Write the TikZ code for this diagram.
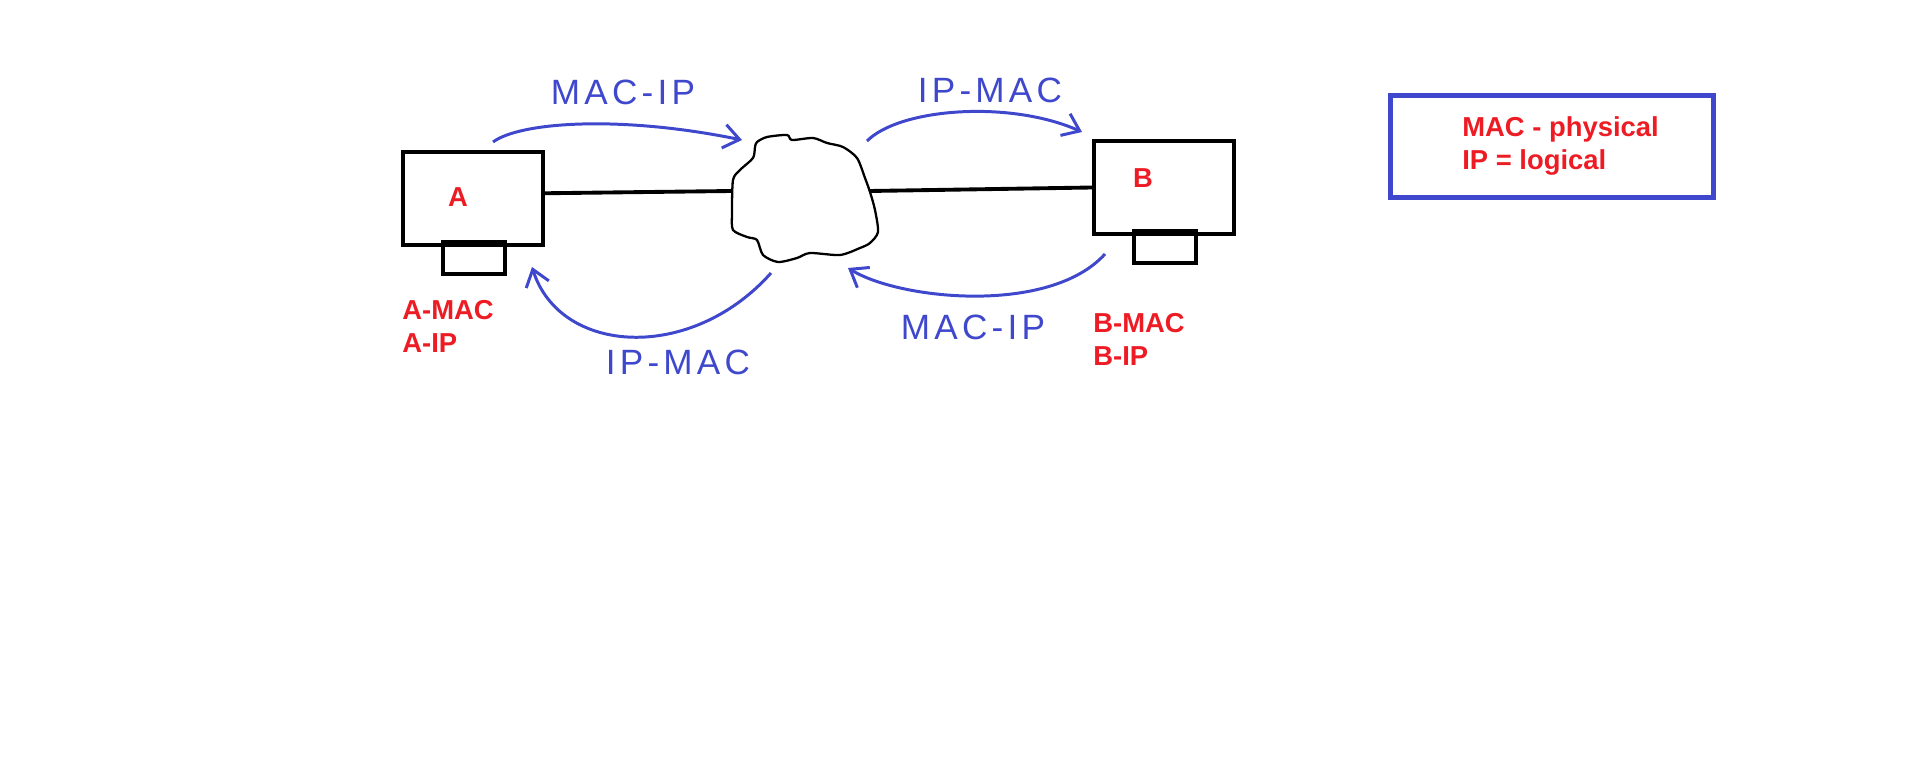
\documentclass[tikz,border=0pt]{standalone}
\usepackage{fontspec}
\setmainfont{Liberation Sans}
\newfontfamily\manofont[LetterSpace=12]{Liberation Sans}
\usepackage{xcolor}
\usetikzlibrary{arrows.meta,positioning,calc}
\definecolor{azul}{RGB}{63,72,204}
\definecolor{rojo}{RGB}{237,28,36}

\begin{document}
\begin{tikzpicture}[x=0.02cm,y=-0.02cm,
  equipo/.style={draw,line width=2.3pt,minimum width=2.8cm,minimum height=1.87cm,inner sep=0pt},
  tarjeta/.style={draw,line width=2.3pt,minimum width=1.24cm,minimum height=0.64cm,inner sep=0pt},
  rotulo/.style={text=rojo,font=\fontsize{15.6}{18.7}\selectfont\bfseries,align=left,inner sep=0pt},
  mano/.style={text=azul,font=\manofont\fontsize{20}{22}\selectfont,inner sep=0pt},
  flecha/.style={draw=azul,line width=1.7pt,-{Straight Barb[length=9pt,width=13.5pt]}}]
\useasboundingbox (0,0) rectangle (1914,773);

% equipos A y B
\node[equipo] (pcA) at (472.6,198.3) {};
\node[tarjeta] (nicA) at (474,258) {};
\node[rotulo] (nomA) at (458,197) {A};
\node[rotulo,anchor=north west] (dirA) at (402,300) {A-MAC\\A-IP};

\node[equipo] (pcB) at (1164,187.5) {};
\node[tarjeta] (nicB) at (1165,247) {};
\node[rotulo] (nomB) at (1143,178) {B};
\node[rotulo,anchor=north west] (dirB) at (1093,313) {B-MAC\\B-IP};

% nube
\draw[line width=1.3pt] plot[smooth cycle,tension=0.45] coordinates {
  (757,142) (767,137) (787,135) (792,140) (813,138) (827,143) (843,147)
  (857,158) (865,178) (870,192) (875,210) (878,232) (870,243) (860,248)
  (840,255) (810,253) (797,258) (778,262) (763,255) (757,240) (747,237)
  (733,230) (732,213) (733,180) (740,170) (753,158) (755,147)};
\coordinate (nubeO) at (732,191);
\coordinate (nubeE) at (870,191);

\draw[line width=2.2pt] (pcA.4) -- (nubeO);
\draw[line width=2.2pt] (nubeE) -- (pcB.west);

% flechas
\coordinate (f1a) at (493,142); \coordinate (f1b) at (742,140);
\coordinate (f2a) at (867,141); \coordinate (f2b) at (1082,132);
\coordinate (f3a) at (771,273); \coordinate (f3b) at (532,267);
\coordinate (f4a) at (1105,254); \coordinate (f4b) at (848,268);
\draw[flecha] (f1a) .. controls (520,122) and (620,115) .. (f1b);
\draw[flecha] (f2a) .. controls (900,108) and (1010,100) .. (f2b);
\draw[flecha] (f3a) .. controls (691,363) and (560,355) .. (f3b);
\draw[flecha] (f4a) .. controls (1050,315) and (900,300) .. (f4b);

\node[mano] (m1) at (623,92) {MAC-IP};
\node[mano] (m2) at (990,90) {IP-MAC};
\node[mano] (m3) at (678,362) {IP-MAC};
\node[mano] (m4) at (973,327) {MAC-IP};

% leyenda
\node[draw=azul,line width=2.8pt,minimum width=6.46cm,minimum height=2.04cm] (leyenda) at (1552,146.5) {};
\node[rotulo,anchor=north west] (defs) at (1462,116) {MAC - physical\\IP = logical};
\end{tikzpicture}
\end{document}
